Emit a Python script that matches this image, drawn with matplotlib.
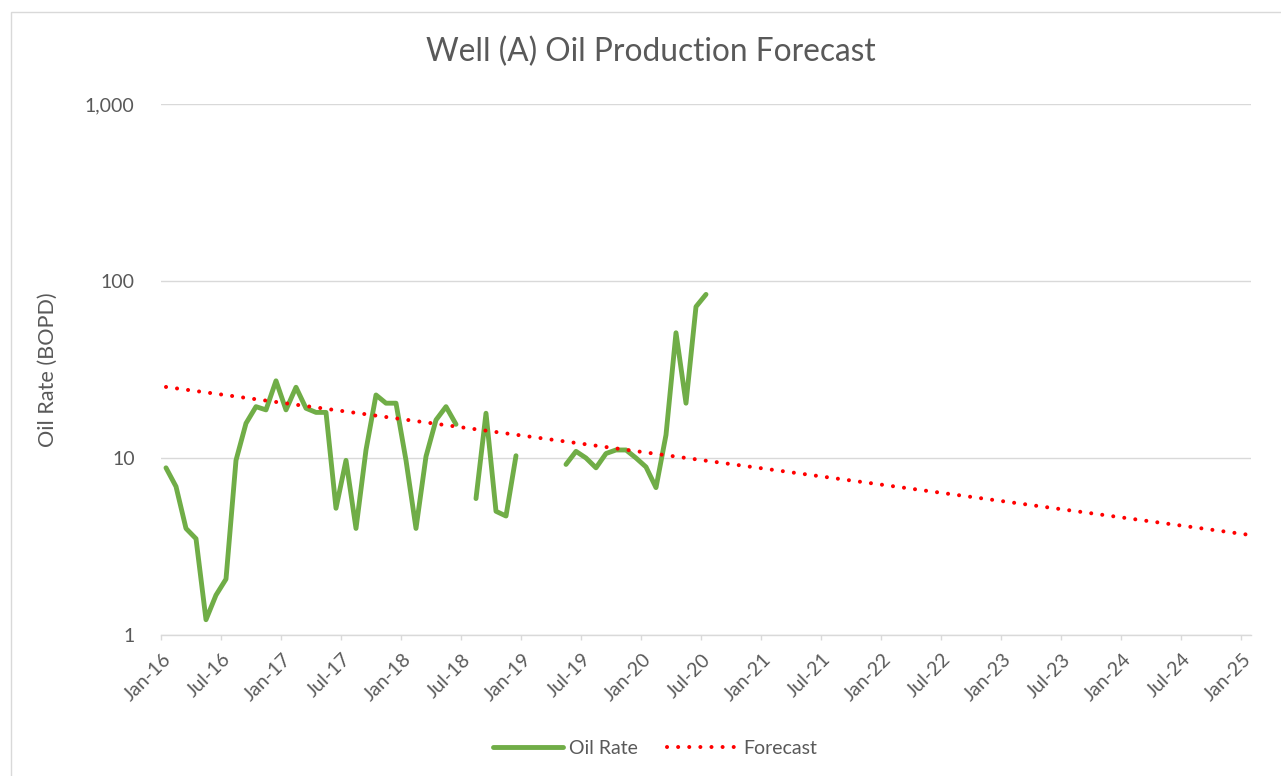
import numpy as np
import matplotlib
matplotlib.use("Agg")
import matplotlib.pyplot as plt
from matplotlib.patches import Rectangle
from matplotlib.transforms import ScaledTranslation

plt.rcParams['font.family'] = ['Lato', 'DejaVu Sans']

# data: monthly oil rate (BOPD), Jan-16 .. Jul-20, nan = no production reported
oil_rate = [
    8.8, 6.9, 4.0, 3.5, 1.22, 1.68, 2.07, 9.7, 15.7, 19.5, 18.7, 27.3,      # 2016
    18.7, 25.1, 19.1, 18.1, 18.1, 5.2, 9.7, 4.0, 11.1, 22.7, 20.4, 20.4,    # 2017
    9.7, 4.0, 10.2, 16.4, 19.5, 15.5, np.nan, 5.9, 17.9, 5.0, 4.7, 10.3,    # 2018
    np.nan, np.nan, np.nan, np.nan, 9.2, 10.9, 10.0, 8.8, 10.6, 11.1, 11.1, 10.0,  # 2019
    8.9, 6.8, 13.5, 51.0, 20.4, 71.6, 84.0,                                 # 2020
]
# forecast: exponential decline, Jan-16 -> Jan-25
forecast_months = [0, 108]
forecast_rate = [25.2, 3.7]

tick_labels = ['Jan-16', 'Jul-16', 'Jan-17', 'Jul-17', 'Jan-18', 'Jul-18', 'Jan-19',
               'Jul-19', 'Jan-20', 'Jul-20', 'Jan-21', 'Jul-21', 'Jan-22', 'Jul-22',
               'Jan-23', 'Jul-23', 'Jan-24', 'Jul-24', 'Jan-25']
y_ticks = [1, 10, 100, 1000]
y_labels = ['1', '10', '100', '1,000']

txt = '#595959'
grid = '#d9d9d9'
W, H = 1281, 776

fig = plt.figure(figsize=(W / 100, H / 100), dpi=100)
ax = fig.add_axes([161 / W, 1 - 635 / H, 1090 / W, 531 / H])

x = np.arange(len(oil_rate)) + 0.5
ax.plot(x, oil_rate, color='#70AD47', lw=3.5, solid_capstyle='round',
        solid_joinstyle='round', label='Oil Rate', zorder=3)
ax.plot(np.array(forecast_months) + 0.5, forecast_rate, color='#FF0000', lw=2.9,
        linestyle=(0, (0.01, 2.75)), dash_capstyle='round', label='Forecast', zorder=4)

ax.set_yscale('log')
ax.set_ylim(1, 1000)
ax.set_xlim(0, 109)
ax.set_yticks(y_ticks)
ax.set_yticklabels(y_labels)
ax.yaxis.set_minor_locator(matplotlib.ticker.NullLocator())
ax.tick_params(axis='y', length=0, pad=19, labelsize=14, labelcolor=txt)
ax.grid(axis='y', color=grid, lw=1.0)
ax.set_axisbelow(True)

ax.set_xticks(np.arange(0, 109, 6))
ax.set_xticklabels(tick_labels, rotation=45, ha='right', va='center',
                   rotation_mode='anchor')
ax.tick_params(axis='x', direction='out', length=3.6, width=1.0, color=grid,
               labelsize=14, labelcolor=txt, pad=12)
offset = ScaledTranslation(7 / 100, 0, fig.dpi_scale_trans)
for lab in ax.get_xticklabels():
    lab.set_transform(lab.get_transform() + offset)

for s in ['left', 'right', 'top']:
    ax.spines[s].set_visible(False)
ax.spines['bottom'].set_color(grid)
ax.spines['bottom'].set_linewidth(1.0)

ax.set_ylabel('Oil Rate (BOPD)', fontsize=15.6, color=txt, labelpad=0)
ax.yaxis.set_label_coords(58 / W, 1 - 370 / H, transform=fig.transFigure)

fig.text(651 / W, 1 - 52 / H, 'Well (A) Oil Production Forecast', ha='center',
         va='center', fontsize=22.8, color=txt)

fig.legend(loc='center', bbox_to_anchor=(655 / W, 1 - 748 / H), ncol=2, frameon=False,
           fontsize=14, labelcolor=txt, handlelength=3.6, handletextpad=0.3,
           columnspacing=1.5)

fig.patches.append(Rectangle((10.5 / W, -0.1), 1.2, 1.1 - 12.5 / H, transform=fig.transFigure,
                             fill=False, edgecolor=grid, lw=1.0))

fig.savefig('out.png', dpi=100)
